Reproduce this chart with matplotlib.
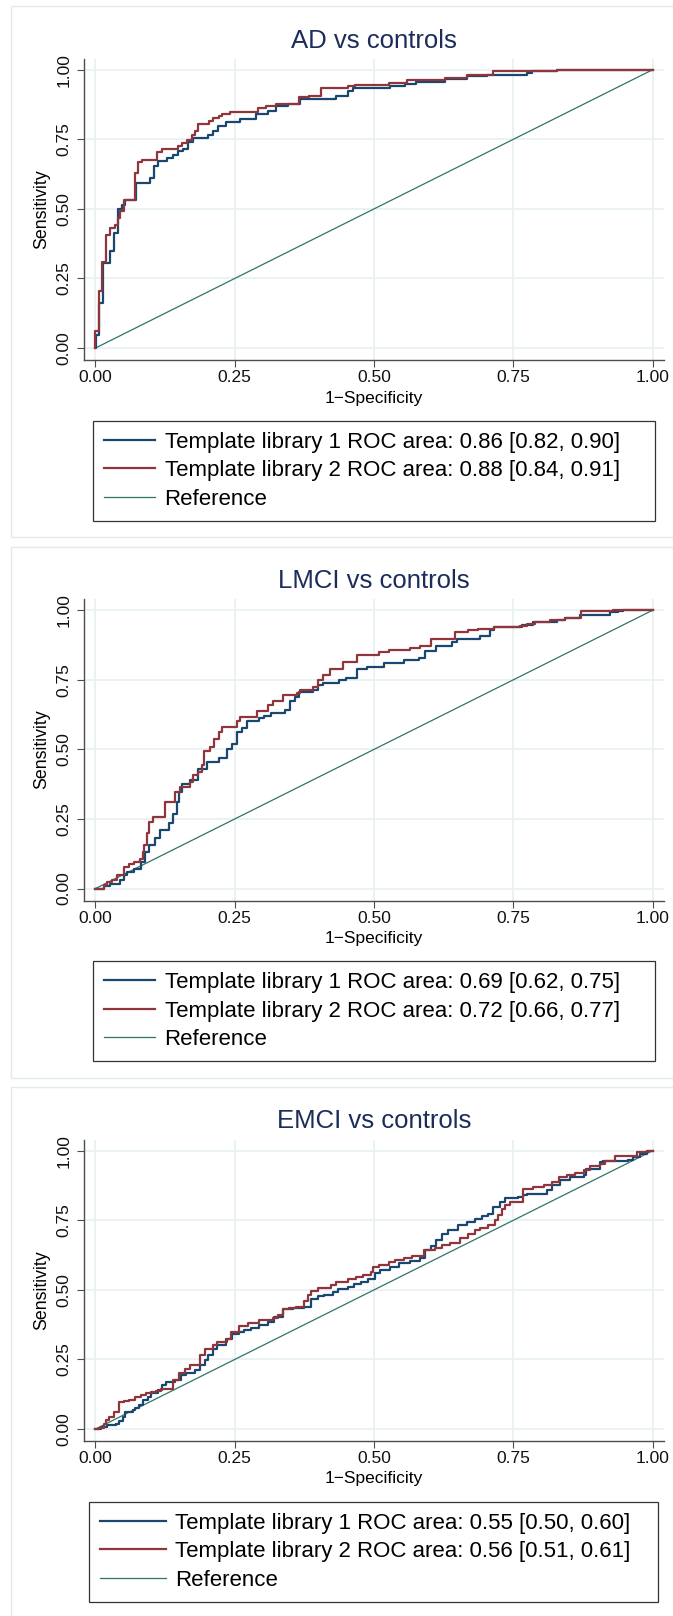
import matplotlib
matplotlib.use('Agg')
import matplotlib.pyplot as plt
from matplotlib.patches import Rectangle

plt.rcParams['font.family'] = ['Liberation Sans', 'DejaVu Sans']

# ---- data (step ROC curves: fpr, tpr at each jump) ----
titles = ['AD vs controls', 'LMCI vs controls', 'EMCI vs controls']

ad_fpr1 = [0, 0.002, 0.007, 0.0137, 0.0256, 0.034, 0.040, 0.048, 0.054, 0.0726, 0.098, 0.105,
           0.113, 0.128, 0.139, 0.149, 0.158, 0.167, 0.176, 0.202, 0.211, 0.220, 0.235, 0.259,
           0.289, 0.310, 0.324, 0.345, 0.367, 0.432, 0.453, 0.462, 0.528, 0.555, 0.576, 0.627,
           0.666, 0.702, 0.775, 0.783, 0.828, 1.0]
ad_tpr1 = [0, 0.048, 0.162, 0.305, 0.347, 0.413, 0.501, 0.515, 0.533, 0.593, 0.611, 0.653,
           0.673, 0.683, 0.692, 0.707, 0.716, 0.740, 0.755, 0.766, 0.781, 0.799, 0.811, 0.823,
           0.841, 0.853, 0.868, 0.875, 0.895, 0.907, 0.922, 0.934, 0.940, 0.948, 0.956, 0.968,
           0.976, 0.982, 0.988, 0.996, 1.0, 1.0]
ad_fpr2 = [0, 0, 0.006, 0.012, 0.0196, 0.0256, 0.0345, 0.040, 0.045, 0.052, 0.071, 0.077, 0.0845,
           0.111, 0.119, 0.149, 0.155, 0.164, 0.173, 0.179, 0.185, 0.204, 0.211, 0.222, 0.228,
           0.241, 0.292, 0.307, 0.324, 0.365, 0.384, 0.405, 0.453, 0.466, 0.527, 0.559, 0.627,
           0.666, 0.714, 0.828, 1.0]
ad_tpr2 = [0, 0.06, 0.206, 0.311, 0.407, 0.431, 0.443, 0.467, 0.491, 0.531, 0.629, 0.668, 0.677,
           0.704, 0.716, 0.724, 0.737, 0.749, 0.766, 0.781, 0.805, 0.817, 0.826, 0.835, 0.841,
           0.847, 0.862, 0.868, 0.877, 0.900, 0.907, 0.934, 0.940, 0.946, 0.952, 0.964, 0.970,
           0.982, 0.996, 1.0, 1.0]

lmci_fpr1 = [0, 0.015, 0.027, 0.045, 0.051, 0.057, 0.069, 0.082, 0.090, 0.096, 0.107, 0.116,
             0.133, 0.140, 0.146, 0.151, 0.155, 0.170, 0.185, 0.200, 0.221, 0.237, 0.245, 0.255,
             0.263, 0.272, 0.293, 0.302, 0.316, 0.340, 0.349, 0.358, 0.366, 0.391, 0.400, 0.409,
             0.438, 0.450, 0.469, 0.487, 0.518, 0.553, 0.580, 0.592, 0.612, 0.639, 0.648, 0.690,
             0.708, 0.715, 0.765, 0.786, 0.828, 0.843, 0.870, 0.923, 0.938, 0.947, 1.0]
lmci_tpr1 = [0, 0.010, 0.018, 0.030, 0.048, 0.060, 0.072, 0.096, 0.132, 0.158, 0.180, 0.210,
             0.234, 0.269, 0.311, 0.347, 0.374, 0.389, 0.431, 0.455, 0.470, 0.503, 0.521, 0.563,
             0.575, 0.602, 0.611, 0.620, 0.629, 0.641, 0.673, 0.689, 0.707, 0.713, 0.731, 0.740,
             0.749, 0.757, 0.788, 0.796, 0.810, 0.820, 0.828, 0.852, 0.871, 0.886, 0.898, 0.907,
             0.928, 0.938, 0.946, 0.958, 0.964, 0.972, 0.982, 0.992, 0.996, 1.0, 1.0]
lmci_fpr2 = [0, 0.015, 0.021, 0.030, 0.039, 0.051, 0.060, 0.069, 0.081, 0.085, 0.088, 0.093,
             0.097, 0.104, 0.125, 0.143, 0.152, 0.169, 0.176, 0.185, 0.191, 0.195, 0.206, 0.213,
             0.221, 0.227, 0.254, 0.260, 0.290, 0.310, 0.319, 0.337, 0.361, 0.367, 0.391, 0.400,
             0.409, 0.421, 0.445, 0.469, 0.508, 0.526, 0.565, 0.583, 0.603, 0.645, 0.669, 0.687,
             0.715, 0.761, 0.774, 0.789, 0.816, 0.843, 0.871, 0.929, 1.0]
lmci_tpr2 = [0, 0.012, 0.022, 0.030, 0.048, 0.078, 0.090, 0.096, 0.108, 0.132, 0.156, 0.198,
             0.240, 0.257, 0.311, 0.347, 0.365, 0.383, 0.407, 0.419, 0.443, 0.493, 0.509, 0.539,
             0.563, 0.581, 0.601, 0.617, 0.637, 0.659, 0.673, 0.695, 0.704, 0.713, 0.725, 0.749,
             0.766, 0.788, 0.814, 0.838, 0.850, 0.856, 0.864, 0.871, 0.895, 0.922, 0.930, 0.934,
             0.938, 0.942, 0.952, 0.958, 0.964, 0.972, 0.996, 1.0, 1.0]

emci_fpr1 = [0, 0.010, 0.021, 0.037, 0.043, 0.049, 0.053, 0.067, 0.071, 0.079, 0.085, 0.094,
             0.100, 0.112, 0.119, 0.127, 0.143, 0.154, 0.163, 0.178, 0.187, 0.196, 0.203, 0.211,
             0.219, 0.234, 0.246, 0.258, 0.267, 0.279, 0.294, 0.309, 0.321, 0.336, 0.354, 0.375,
             0.386, 0.399, 0.411, 0.426, 0.435, 0.453, 0.464, 0.477, 0.489, 0.502, 0.511, 0.529,
             0.544, 0.565, 0.583, 0.592, 0.603, 0.612, 0.621, 0.633, 0.651, 0.666, 0.681, 0.693,
             0.705, 0.714, 0.726, 0.735, 0.759, 0.768, 0.774, 0.810, 0.819, 0.834, 0.852, 0.876,
             0.880, 0.905, 0.911, 0.956, 0.965, 0.977, 0.989, 1.0]
emci_tpr1 = [0, 0.006, 0.014, 0.020, 0.029, 0.044, 0.062, 0.068, 0.076, 0.088, 0.104, 0.116,
             0.128, 0.140, 0.160, 0.170, 0.178, 0.194, 0.203, 0.211, 0.232, 0.247, 0.265, 0.289,
             0.301, 0.323, 0.343, 0.349, 0.355, 0.363, 0.373, 0.385, 0.403, 0.432, 0.435, 0.438,
             0.466, 0.478, 0.480, 0.492, 0.502, 0.510, 0.522, 0.530, 0.540, 0.560, 0.571, 0.583,
             0.595, 0.604, 0.615, 0.643, 0.658, 0.679, 0.699, 0.714, 0.732, 0.742, 0.754, 0.765,
             0.774, 0.798, 0.815, 0.830, 0.833, 0.839, 0.845, 0.857, 0.877, 0.896, 0.905, 0.913,
             0.934, 0.958, 0.961, 0.968, 0.976, 0.988, 1.0, 1.0]
emci_fpr2 = [0, 0.007, 0.016, 0.019, 0.025, 0.034, 0.043, 0.052, 0.061, 0.071, 0.082, 0.091,
             0.100, 0.109, 0.117, 0.139, 0.151, 0.160, 0.170, 0.187, 0.196, 0.211, 0.219, 0.237,
             0.243, 0.258, 0.273, 0.294, 0.318, 0.327, 0.336, 0.348, 0.360, 0.375, 0.381, 0.387,
             0.399, 0.423, 0.432, 0.453, 0.468, 0.480, 0.495, 0.499, 0.508, 0.526, 0.538, 0.553,
             0.568, 0.589, 0.609, 0.621, 0.636, 0.654, 0.669, 0.681, 0.690, 0.705, 0.717, 0.723,
             0.729, 0.735, 0.744, 0.768, 0.786, 0.804, 0.819, 0.831, 0.846, 0.861, 0.876, 0.888,
             0.905, 0.914, 0.932, 0.971, 0.989, 1.0]
emci_tpr2 = [0, 0.005, 0.020, 0.032, 0.044, 0.062, 0.096, 0.100, 0.104, 0.116, 0.122, 0.128,
             0.134, 0.136, 0.143, 0.176, 0.203, 0.217, 0.232, 0.265, 0.289, 0.303, 0.313, 0.325,
             0.349, 0.370, 0.382, 0.391, 0.399, 0.409, 0.430, 0.435, 0.438, 0.459, 0.480, 0.495,
             0.507, 0.519, 0.528, 0.540, 0.546, 0.554, 0.564, 0.583, 0.589, 0.599, 0.607, 0.615,
             0.623, 0.643, 0.651, 0.661, 0.670, 0.685, 0.702, 0.714, 0.723, 0.732, 0.750, 0.768,
             0.790, 0.805, 0.815, 0.863, 0.869, 0.877, 0.887, 0.905, 0.913, 0.920, 0.932, 0.944,
             0.952, 0.964, 0.980, 0.994, 1.0, 1.0]

labels = [
    ['Template library 1 ROC area: 0.86 [0.82, 0.90]',
     'Template library 2 ROC area: 0.88 [0.84, 0.91]', 'Reference'],
    ['Template library 1 ROC area: 0.69 [0.62, 0.75]',
     'Template library 2 ROC area: 0.72 [0.66, 0.77]', 'Reference'],
    ['Template library 1 ROC area: 0.55 [0.50, 0.60]',
     'Template library 2 ROC area: 0.56 [0.51, 0.61]', 'Reference'],
]
curves = [
    (ad_fpr1, ad_tpr1, ad_fpr2, ad_tpr2),
    (lmci_fpr1, lmci_tpr1, lmci_fpr2, lmci_tpr2),
    (emci_fpr1, emci_tpr1, emci_fpr2, emci_tpr2),
]
ticks = [0, 0.25, 0.5, 0.75, 1.0]
tick_labels = ['0.00', '0.25', '0.50', '0.75', '1.00']

# ---- styling ----
W, H = 673, 1616
NAVY = '#1a476f'
MAROON = '#90353b'
TEAL = '#2f7567'
GRID = '#e9f1f2'
AXC = '#4d4d4d'


def fx(px):
    return px / W


def fy(py):
    return 1 - py / H


fig = plt.figure(figsize=(W / 100, H / 100), dpi=100)

offsets = [0, 540.5, 1081]
handle_len = [2.3, 2.3, 2.95]
leg_x = [(93, 655), (93, 655), (89.3, 658)]

for i, off in enumerate(offsets):
    # light outer frame of each panel
    fig.patches.append(Rectangle((fx(11), fy(off + 537)), fx(690) - fx(11), 531 / H,
                                 transform=fig.transFigure, fill=False,
                                 ec='#e3eaed', lw=1.0, zorder=0))

    ax = fig.add_axes([fx(84), fy(off + 360), 580 / W, 301.5 / H])
    ax.set_xlim(-0.0203, 1.0201)
    ax.set_ylim(-0.0427, 1.040)

    f1, t1, f2, t2 = curves[i]
    l1, = ax.plot(f1, t1, drawstyle='steps-post', color=NAVY, lw=1.6, zorder=3)
    l2, = ax.plot(f2, t2, drawstyle='steps-post', color=MAROON, lw=1.6, zorder=4)
    l3, = ax.plot([0, 1], [0, 1], color=TEAL, lw=0.9, zorder=2)

    ax.set_xticks(ticks)
    ax.set_xticklabels(tick_labels)
    ax.set_yticks(ticks)
    ax.set_yticklabels(tick_labels)
    ax.grid(True, color=GRID, lw=1.3, zorder=0)
    ax.set_axisbelow(True)
    for s in ['top', 'right']:
        ax.spines[s].set_visible(False)
    for s in ['left', 'bottom']:
        ax.spines[s].set_color(AXC)
        ax.spines[s].set_linewidth(1.0)
    ax.tick_params(direction='out', length=5, width=0.8, color=AXC,
                   labelsize=12.5, labelcolor='#111111')
    ax.tick_params(axis='x', pad=2.5)
    ax.tick_params(axis='y', pad=4, labelrotation=90)
    for lab in ax.get_yticklabels():
        lab.set_va('center')

    ax.set_xlabel('1\u2212Specificity', fontsize=12.5)
    ax.xaxis.set_label_coords(0.5, -(398 - 360) / 301.5)
    ax.xaxis.label.set_va('center')
    ax.set_ylabel('Sensitivity', fontsize=12.8)
    ax.yaxis.set_label_coords((42 - 84) / 580, (360 - 209) / 301.5)
    ax.yaxis.label.set_va('center')

    fig.text(fx(374), fy(off + 40.5), titles[i], ha='center', va='center',
             fontsize=18.5, color='#1c2d5a')

    x0, x1 = leg_x[i]
    leg = ax.legend([l1, l2, l3], labels[i], loc='upper left',
                    bbox_to_anchor=(fx(x0), fy(off + 519), (x1 - x0) / W, 98.5 / H),
                    bbox_transform=fig.transFigure, mode='expand', borderaxespad=0,
                    fontsize=16, handlelength=handle_len[i], handletextpad=0.42,
                    borderpad=0.5, labelspacing=0.34, fancybox=False, framealpha=1)
    leg.get_frame().set_edgecolor('#333333')
    leg.get_frame().set_linewidth(0.9)

fig.savefig('out.png', dpi=100)
